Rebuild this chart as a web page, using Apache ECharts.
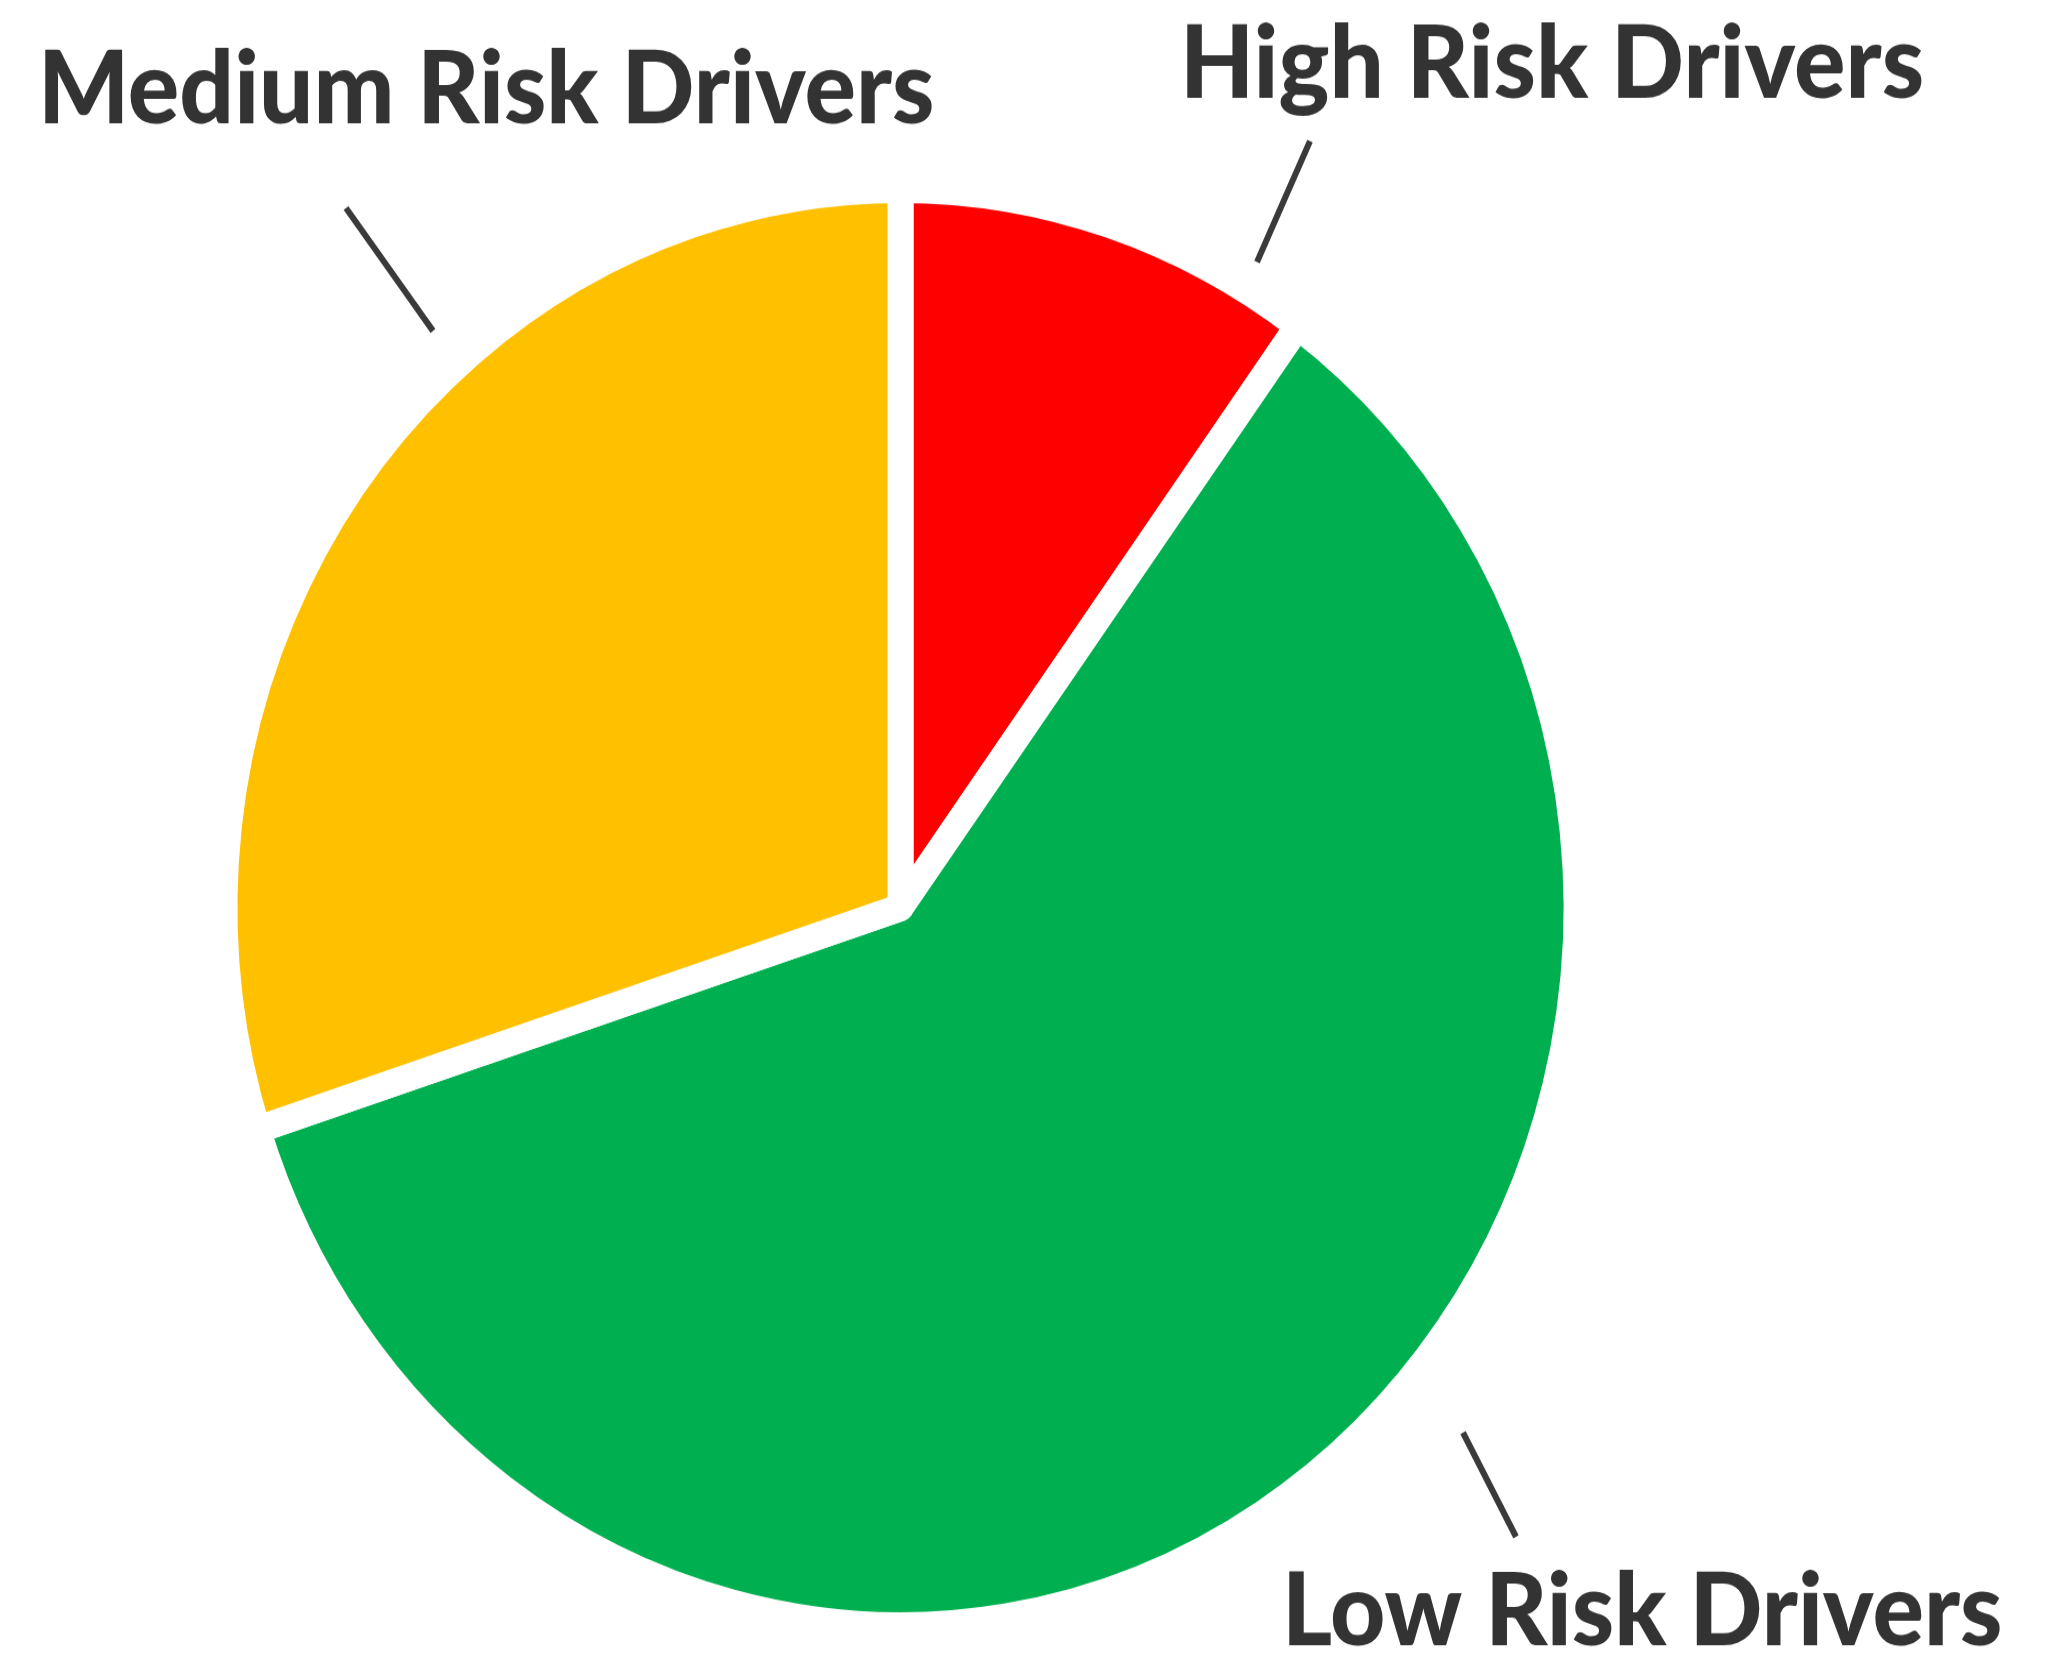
<!DOCTYPE html>
<html>
<head>
<meta charset="utf-8">
<script src="https://cdn.jsdelivr.net/npm/echarts@6/dist/echarts.min.js"></script>
<style>
html,body{margin:0;padding:0;background:#fff;overflow:hidden}
#wrap{width:2069px;height:1659px;overflow:hidden}
#chart{width:2069px;height:1561px;transform:scaleY(1.06278);transform-origin:0 0}
</style>
</head>
<body>
<div id="wrap"><div id="chart"></div></div>
<script>
// ---- data ----
const categories = ['High Risk Drivers', 'Low Risk Drivers', 'Medium Risk Drivers'];
const values = [10, 60, 30];
const colors = ['#FF0000', '#00B050', '#FFC000'];

// ---- annotation layout (chart pixel space) ----
const labelPlacement = [
  { x: 1180, y: 61,   line: [[1257, 246.5], [1310, 132.7]] },
  { x: 1282, y: 1517, line: [[1463, 1348], [1516, 1446]] },
  { x: 38,   y: 85,   line: [[433, 311.4], [346, 195.7]] }
];

const chart = echarts.init(document.getElementById('chart'), null, { renderer: 'canvas' });

const seriesData = categories.map((name, i) => ({
  name: name,
  value: values[i],
  itemStyle: { color: colors[i] }
}));

chart.setOption({
  animation: false,
  backgroundColor: '#ffffff',
  series: [{
    type: 'pie',
    center: [900.5, 853.9],
    radius: 676,
    startAngle: 90,
    clockwise: true,
    avoidLabelOverlap: false,
    data: seriesData,
    itemStyle: { borderColor: '#ffffff', borderWidth: 26 },
    label: {
      show: true,
      formatter: '{b}',
      fontFamily: 'Lato',
      fontWeight: 900,
      fontSize: 96,
      color: '#333333'
    },
    labelLine: {
      show: true,
      smooth: false,
      lineStyle: { color: '#3a3a3a', width: 6 }
    },
    labelLayout: function (params) {
      const p = labelPlacement[params.dataIndex];
      const a = p.line[0], b = p.line[1];
      return {
        x: p.x,
        y: p.y,
        align: 'left',
        verticalAlign: 'middle',
        labelLinePoints: [a, [(a[0] + b[0]) / 2, (a[1] + b[1]) / 2], b]
      };
    },
    emphasis: { disabled: true }
  }]
});
</script>
</body>
</html>
